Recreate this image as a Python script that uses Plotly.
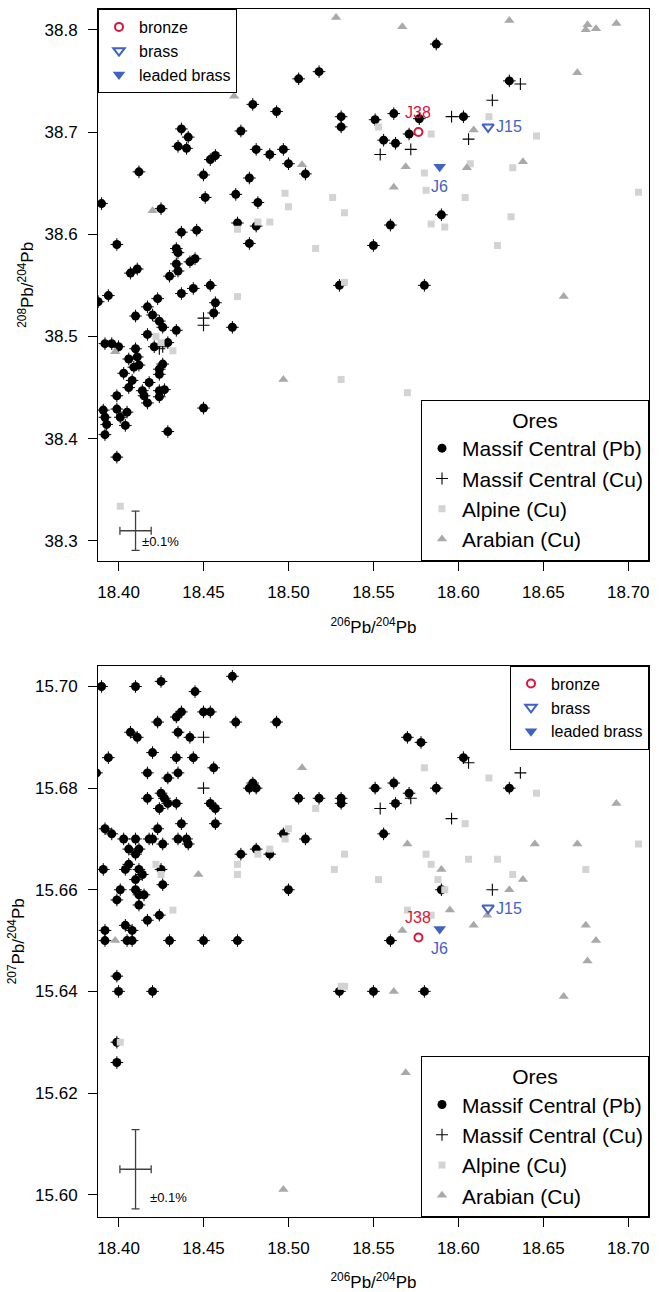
import plotly.graph_objects as go

FONT = "Liberation Sans, Arial, sans-serif"
RED = "#DC143C"
BLUE = "#3F62C4"
ALPINE = "#D3D3D3"
ARABIAN = "#A9A9A9"

# ---------------- axes ----------------
x_ticks = [18.40, 18.45, 18.50, 18.55, 18.60, 18.65, 18.70]
top_y_ticks = [38.3, 38.4, 38.5, 38.6, 38.7, 38.8]
bot_y_ticks = [15.60, 15.62, 15.64, 15.66, 15.68, 15.70]
x_range = [18.3879, 18.7122]
top_y_range = [38.2807, 38.8203]
bot_y_range = [15.5956, 15.7041]

# ---------------- artefact samples ----------------
sample_names = ["J38", "J15", "J6"]
sample_types = ["bronze", "brass", "leaded brass"]
sample_206 = [18.5765, 18.6175, 18.589]
sample_208 = [38.700, 38.705, 38.666]
sample_207 = [15.6506, 15.6564, 15.6523]

# ---------------- ores, 208/204 panel ----------------
top_pb_x = [18.390, 18.412, 18.399, 18.407, 18.411, 18.394, 18.423, 18.425, 18.437, 18.441,
            18.435, 18.440, 18.450, 18.454, 18.457, 18.451, 18.437, 18.446, 18.434, 18.435,
            18.434, 18.435, 18.430, 18.442, 18.445, 18.437, 18.444, 18.454, 18.479, 18.493,
            18.472, 18.481, 18.489, 18.497, 18.500, 18.510, 18.506, 18.518, 18.477, 18.469,
            18.482, 18.470, 18.481, 18.477, 18.587, 18.630, 18.531, 18.531, 18.551, 18.562,
            18.577, 18.603, 18.571, 18.556, 18.563, 18.590, 18.560, 18.550, 18.530, 18.580,
            18.457, 18.456, 18.388, 18.417, 18.410, 18.420, 18.424, 18.426, 18.434, 18.417,
            18.429, 18.421, 18.392, 18.396, 18.400, 18.410, 18.406, 18.411, 18.409, 18.412,
            18.426, 18.424, 18.424, 18.403, 18.408, 18.418, 18.406, 18.414, 18.424, 18.427,
            18.415, 18.424, 18.417, 18.399, 18.391, 18.399, 18.405, 18.392, 18.401, 18.393,
            18.404, 18.392, 18.429, 18.450, 18.399, 18.467]
top_pb_y = [38.630, 38.661, 38.590, 38.562, 38.566, 38.540, 38.537, 38.625, 38.703, 38.695,
            38.686, 38.684, 38.658, 38.673, 38.677, 38.636, 38.602, 38.604, 38.586, 38.582,
            38.571, 38.564, 38.559, 38.573, 38.576, 38.542, 38.547, 38.550, 38.727, 38.720,
            38.701, 38.683, 38.678, 38.683, 38.669, 38.659, 38.752, 38.759, 38.655, 38.639,
            38.631, 38.611, 38.608, 38.591, 38.786, 38.750, 38.715, 38.705, 38.712, 38.718,
            38.713, 38.715, 38.698, 38.692, 38.689, 38.619, 38.609, 38.589, 38.550, 38.550,
            38.533, 38.523, 38.534, 38.529, 38.520, 38.521, 38.515, 38.509, 38.506, 38.502,
            38.494, 38.490, 38.493, 38.493, 38.490, 38.488, 38.478, 38.480, 38.470, 38.472,
            38.473, 38.468, 38.463, 38.464, 38.457, 38.455, 38.450, 38.447, 38.447, 38.448,
            38.442, 38.441, 38.435, 38.442, 38.428, 38.429, 38.426, 38.421, 38.421, 38.414,
            38.413, 38.404, 38.407, 38.430, 38.382, 38.509]

top_cu_x = [18.6365, 18.620, 18.596, 18.606, 18.554, 18.572, 18.450, 18.450, 18.424, 18.426]
top_cu_y = [38.747, 38.731, 38.715, 38.693, 38.678, 38.683, 38.518, 38.511, 38.488, 38.490]

top_alp_x = [18.498, 18.500, 18.482, 18.489, 18.470, 18.516, 18.526, 18.470, 18.618, 18.553,
             18.584, 18.646, 18.607, 18.580, 18.632, 18.581, 18.604, 18.706, 18.533, 18.584,
             18.592, 18.631, 18.623, 18.533, 18.531, 18.570, 18.422, 18.425, 18.432, 18.401]
top_alp_y = [38.640, 38.627, 38.612, 38.612, 38.605, 38.586, 38.636, 38.539, 38.715, 38.705,
             38.698, 38.696, 38.669, 38.660, 38.665, 38.643, 38.636, 38.641, 38.621, 38.610,
             38.607, 38.617, 38.589, 38.553, 38.458, 38.445, 38.500, 38.494, 38.486, 38.334]

top_ara_x = [18.468, 18.508, 18.420, 18.528, 18.567, 18.630, 18.676, 18.675, 18.681, 18.693,
             18.670, 18.609, 18.569, 18.605, 18.638, 18.562, 18.662, 18.497, 18.398]
top_ara_y = [38.735, 38.668, 38.623, 38.812, 38.803, 38.809, 38.805, 38.800, 38.801, 38.806,
             38.758, 38.702, 38.666, 38.665, 38.671, 38.646, 38.539, 38.458, 38.485]

# ---------------- ores, 207/204 panel ----------------
bot_pb_x = [18.390, 18.410, 18.425, 18.445, 18.467, 18.437, 18.434, 18.450, 18.454, 18.469,
            18.423, 18.407, 18.411, 18.435, 18.442, 18.394, 18.420, 18.434, 18.444, 18.387,
            18.417, 18.435, 18.429, 18.456, 18.417, 18.425, 18.427, 18.429, 18.434, 18.424,
            18.454, 18.457, 18.457, 18.437, 18.423, 18.392, 18.396, 18.403, 18.410, 18.418,
            18.420, 18.435, 18.440, 18.441, 18.426, 18.406, 18.412, 18.410, 18.472, 18.481,
            18.391, 18.404, 18.406, 18.412, 18.414, 18.425, 18.410, 18.426, 18.401, 18.410,
            18.412, 18.415, 18.399, 18.412, 18.417, 18.424, 18.392, 18.392, 18.405, 18.408,
            18.404, 18.408, 18.430, 18.450, 18.470, 18.477, 18.479, 18.481, 18.500, 18.506,
            18.518, 18.510, 18.497, 18.489, 18.493, 18.399, 18.400, 18.420, 18.399, 18.399,
            18.570, 18.578, 18.531, 18.531, 18.551, 18.562, 18.571, 18.587, 18.563, 18.556,
            18.590, 18.560, 18.530, 18.550, 18.580, 18.603, 18.630]
bot_pb_y = [15.700, 15.700, 15.701, 15.699, 15.702, 15.695, 15.694, 15.695, 15.695, 15.693,
            15.693, 15.691, 15.690, 15.691, 15.690, 15.686, 15.687, 15.686, 15.686, 15.683,
            15.683, 15.683, 15.682, 15.684, 15.678, 15.679, 15.678, 15.677, 15.677, 15.676,
            15.677, 15.676, 15.673, 15.673, 15.672, 15.672, 15.671, 15.670, 15.670, 15.670,
            15.670, 15.670, 15.670, 15.669, 15.669, 15.668, 15.668, 15.667, 15.667, 15.668,
            15.664, 15.664, 15.665, 15.664, 15.663, 15.664, 15.662, 15.661, 15.660, 15.660,
            15.659, 15.659, 15.658, 15.657, 15.654, 15.655, 15.652, 15.650, 15.650, 15.650,
            15.653, 15.652, 15.650, 15.650, 15.650, 15.680, 15.681, 15.680, 15.660, 15.678,
            15.678, 15.670, 15.671, 15.667, 15.693, 15.643, 15.640, 15.640, 15.630, 15.626,
            15.690, 15.689, 15.678, 15.677, 15.680, 15.681, 15.679, 15.680, 15.677, 15.671,
            15.660, 15.650, 15.640, 15.640, 15.640, 15.686, 15.680]

bot_cu_x = [18.450, 18.450, 18.606, 18.6365, 18.554, 18.572, 18.596, 18.620]
bot_cu_y = [15.690, 15.680, 15.685, 15.683, 15.676, 15.678, 15.674, 15.660]

bot_alp_x = [18.580, 18.516, 18.500, 18.498, 18.489, 18.482, 18.533, 18.527, 18.553, 18.581,
             18.584, 18.588, 18.592, 18.570, 18.584, 18.531, 18.533, 18.618, 18.646, 18.604,
             18.606, 18.623, 18.632, 18.675, 18.706, 18.422, 18.425, 18.470, 18.470, 18.432,
             18.401]
bot_alp_y = [15.684, 15.676, 15.672, 15.670, 15.668, 15.667, 15.667, 15.664, 15.662, 15.667,
             15.665, 15.662, 15.660, 15.656, 15.655, 15.641, 15.641, 15.682, 15.679, 15.673,
             15.666, 15.666, 15.663, 15.664, 15.669, 15.665, 15.663, 15.665, 15.663, 15.656,
             15.630]

bot_ara_x = [18.508, 18.570, 18.590, 18.595, 18.567, 18.562, 18.693, 18.645, 18.670, 18.638,
             18.630, 18.617, 18.609, 18.675, 18.681, 18.676, 18.662, 18.569, 18.605, 18.447,
             18.398, 18.497]
bot_ara_y = [15.684, 15.669, 15.664, 15.656, 15.652, 15.640, 15.677, 15.669, 15.669, 15.662,
             15.660, 15.655, 15.653, 15.653, 15.650, 15.646, 15.639, 15.624, 15.620, 15.663,
             15.650, 15.601]

# ---------------- measurement-error cross (+/-0.05 % half widths) ----------------
err_206 = 18.41
err_208 = 38.31
err_207 = 15.605
err_half_pct = 0.05

fig = go.Figure()


def add_panel(xa, ya, pbx, pby, cux, cuy, alx, aly, arx, ary, sy, ey, leg_s, leg_o):
    ax = dict(xaxis=xa, yaxis=ya)
    fig.add_trace(go.Scatter(x=pbx, y=pby, mode="markers", name="Massif Central (Pb)",
                             marker=dict(symbol="circle", size=9, color="black"),
                             legend=leg_o, legendrank=1, **ax))
    fig.add_trace(go.Scatter(x=pbx, y=pby, mode="markers", showlegend=False, hoverinfo="skip",
                             marker=dict(symbol="cross-thin", size=9,
                                         line=dict(color="black", width=1)), **ax))
    fig.add_trace(go.Scatter(x=cux, y=cuy, mode="markers", name="Massif Central (Cu)",
                             marker=dict(symbol="cross-thin", size=8.5,
                                         line=dict(color="black", width=1.1)),
                             legend=leg_o, legendrank=2, **ax))
    fig.add_trace(go.Scatter(x=alx, y=aly, mode="markers", name="Alpine (Cu)",
                             marker=dict(symbol="square", size=7, color=ALPINE),
                             legend=leg_o, legendrank=3, **ax))
    fig.add_trace(go.Scatter(x=arx, y=ary, mode="markers", name="Arabian (Cu)",
                             marker=dict(symbol="triangle-up", size=9, color=ARABIAN),
                             legend=leg_o, legendrank=4, **ax))
    styles = [
        dict(symbol="circle-open", size=8, color=RED, line=dict(width=2, color=RED)),
        dict(symbol="triangle-down-open", size=10, color=BLUE, line=dict(width=2, color=BLUE)),
        dict(symbol="triangle-down", size=11, color=BLUE, line=dict(width=0)),
    ]
    for i, t in enumerate(sample_types):
        fig.add_trace(go.Scatter(x=[sample_206[i]], y=[sy[i]], mode="markers", name=t,
                                 marker=styles[i], legend=leg_s, legendrank=i + 1, **ax))
    # error cross
    fig.add_trace(go.Scatter(
        x=[err_206], y=[ey], mode="markers", showlegend=False, hoverinfo="skip",
        marker=dict(size=1, color="rgba(0,0,0,0)"),
        error_x=dict(type="data", array=[err_206 * err_half_pct / 100], color="#404040",
                     thickness=1.3, width=4),
        error_y=dict(type="data", array=[ey * err_half_pct / 100], color="#404040",
                     thickness=1.3, width=4),
        **ax))


add_panel("x", "y", top_pb_x, top_pb_y, top_cu_x, top_cu_y, top_alp_x, top_alp_y,
          top_ara_x, top_ara_y, sample_208, err_208, "legend", "legend2")
add_panel("x2", "y2", bot_pb_x, bot_pb_y, bot_cu_x, bot_cu_y, bot_alp_x, bot_alp_y,
          bot_ara_x, bot_ara_y, sample_207, err_207, "legend3", "legend4")

# labels of artefacts
label_shift = {"J38": (0, 20), "J15": (21, 0), "J6": (0, -20)}
label_color = {"J38": RED, "J15": BLUE, "J6": BLUE}
annotations = []
for xr, yr, sy in (("x", "y", sample_208), ("x2", "y2", sample_207)):
    for i, n in enumerate(sample_names):
        dx, dy = label_shift[n]
        annotations.append(dict(x=sample_206[i], y=sy[i], xref=xr, yref=yr, text=n,
                                showarrow=False, xshift=dx, yshift=dy,
                                font=dict(family=FONT, size=16, color=label_color[n])))
annotations.append(dict(x=18.4128, y=38.2993, xref="x", yref="y", text="±0.1%",
                        showarrow=False, xanchor="left",
                        font=dict(family=FONT, size=13, color="black")))
annotations.append(dict(x=18.4176, y=15.5994, xref="x2", yref="y2", text="±0.1%",
                        showarrow=False, xanchor="left",
                        font=dict(family=FONT, size=13, color="black")))

axis_common = dict(showline=True, linecolor="black", linewidth=1, mirror=True,
                   ticks="outside", ticklen=9, tickwidth=1, tickcolor="black",
                   showgrid=False, zeroline=False, automargin=False,
                   tickfont=dict(family=FONT, size=17, color="black"))
xaxis_common = dict(ticklabelstandoff=7, **axis_common)
yaxis_common = dict(ticklabelstandoff=7, **axis_common)
xtitle = "<sup>206</sup>Pb/<sup>204</sup>Pb"

top_dom = [0.5433, 1.0]
bot_dom = [0.0, 0.4564]

legend_sample = dict(bgcolor="white", bordercolor="black", borderwidth=1,
                     font=dict(family=FONT, size=16, color="black"),
                     tracegroupgap=0, itemclick=False, itemdoubleclick=False)
legend_ores = dict(bgcolor="white", bordercolor="black", borderwidth=1,
                   font=dict(family=FONT, size=21, color="black"),
                   title=dict(text="Ores", side="top center",
                              font=dict(family=FONT, size=21, color="black")),
                   tracegroupgap=0, itemclick=False, itemdoubleclick=False)

fig.update_layout(
    width=666, height=1292,
    margin=dict(l=98, r=17, t=9, b=75, autoexpand=False),
    paper_bgcolor="white", plot_bgcolor="white",
    font=dict(family=FONT, size=17, color="black"),
    xaxis=dict(domain=[0, 1], anchor="y", range=x_range, tickvals=x_ticks,
               tickformat=".2f", title=dict(text=xtitle, font=dict(size=17), standoff=20),
               **xaxis_common),
    yaxis=dict(domain=top_dom, anchor="x", range=top_y_range, tickvals=top_y_ticks,
               tickformat=".1f",
               title=dict(text="<sup>208</sup>Pb/<sup>204</sup>Pb", font=dict(size=17), standoff=6),
               **yaxis_common),
    xaxis2=dict(domain=[0, 1], anchor="y2", range=x_range, tickvals=x_ticks,
                tickformat=".2f", title=dict(text=xtitle, font=dict(size=17), standoff=20),
                **xaxis_common),
    yaxis2=dict(domain=bot_dom, anchor="x2", range=bot_y_range, tickvals=bot_y_ticks,
                tickformat=".2f",
                title=dict(text="<sup>207</sup>Pb/<sup>204</sup>Pb", font=dict(size=17), standoff=6),
                **yaxis_common),
    legend=dict(x=0, y=top_dom[1], xanchor="left", yanchor="top", **legend_sample),
    legend2=dict(x=1, y=top_dom[0], xanchor="right", yanchor="bottom", **legend_ores),
    legend3=dict(x=1, y=bot_dom[1], xanchor="right", yanchor="top", **legend_sample),
    legend4=dict(x=1, y=bot_dom[0], xanchor="right", yanchor="bottom", **legend_ores),
    annotations=annotations,
    showlegend=True,
)

fig.write_html("out.html")
